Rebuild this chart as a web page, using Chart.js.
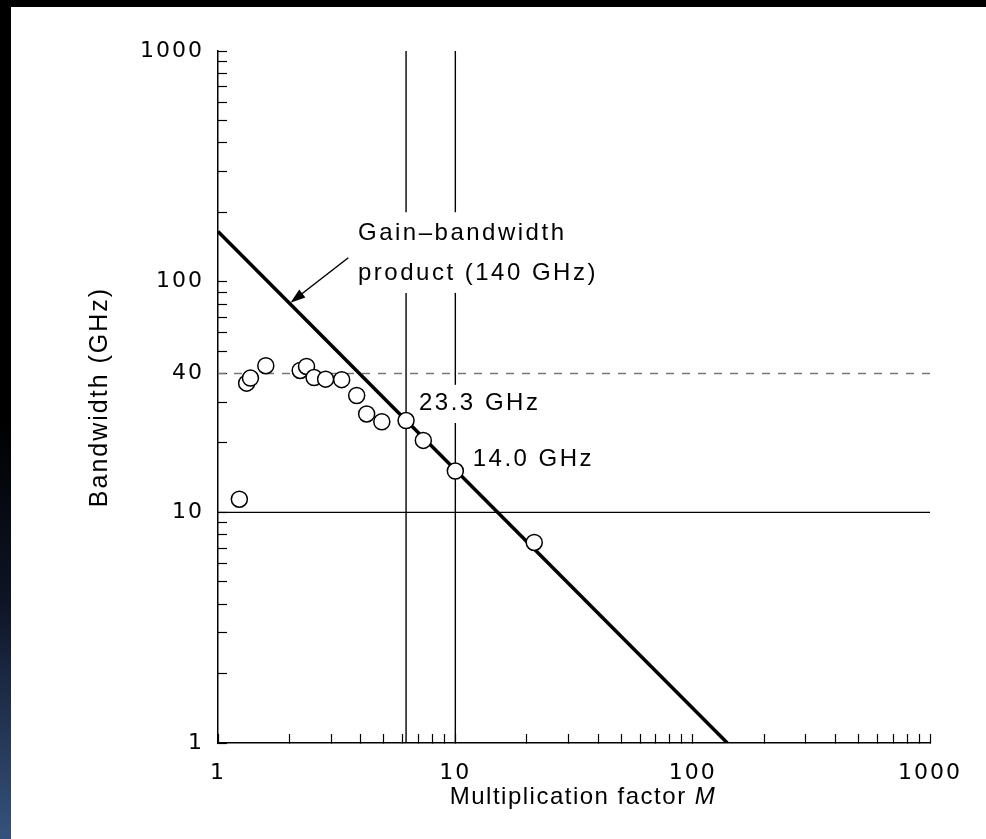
<!DOCTYPE html>
<html>
<head>
<meta charset="utf-8">
<script src="https://cdn.jsdelivr.net/npm/chart.js@4.4.1/dist/chart.umd.min.js"></script>
<style>
  html, body { margin: 0; padding: 0; background: #000; }
  body { width: 986px; height: 839px; position: relative; overflow: hidden; }
  #strip { position: absolute; left: 0; top: 0; width: 11px; height: 839px;
    background: linear-gradient(to bottom, #000 0%, #000 50%, #0e1526 72%, #36527c 100%); }
  #wrap { position: absolute; left: 11px; top: 7px; width: 975px; height: 832px; background: #fff; }
</style>
</head>
<body>
<div id="strip"></div>
<div id="wrap"><canvas id="chart" width="975" height="832"></canvas></div>
<script>
// measured points: multiplication factor M vs bandwidth (GHz)
const multFactor   = [1.23, 1.32, 1.37, 1.59, 2.22, 2.36, 2.54, 2.84, 3.32, 3.84, 4.23, 4.90, 6.2, 7.33, 10, 21.5];
const bandwidthGHz = [11.4, 36.3, 38.2, 43.2, 41.2, 42.9, 38.4, 37.8, 37.6, 32.1, 26.7, 24.7, 25.0, 20.5, 15.1, 7.4];

// gain-bandwidth product line (140 GHz)
const gbpM  = [1, 140];
const gbpBW = [165, 1];

// reference lines
const level40 = 40;
const level10 = 10;
const markM = [6.2, 10];

// tick labels
const xTickLabels = [1, 10, 100, 1000];
const yTickLabels = [1, 10, 40, 100, 1000];

const minorTicks = [];
[1, 10, 100].forEach(d => { for (let k = 1; k < 10; k++) minorTicks.push(k * d); });
minorTicks.push(1000);

const pts = multFactor.map((m, i) => ({ x: m, y: bandwidthGHz[i] }));

const lineDs = (data, opts) => Object.assign({
  data: data, showLine: true, pointRadius: 0, borderColor: "#000",
  borderWidth: 1.4, fill: false
}, opts);

const vSeg = (m, lo, hi) => lineDs([{ x: m, y: lo }, { x: m, y: hi }], {});

// annotations drawn with the scales
const annot = {
  id: "annot",
  beforeDraw(chart) {
    chart.ctx.letterSpacing = "2px";
  },
  afterDraw(chart) {
    const { ctx, scales: { x, y } } = chart;
    ctx.save();
    ctx.fillStyle = "#000";
    ctx.textBaseline = "middle";
    ctx.textAlign = "left";
    ctx.font = "24px 'Liberation Sans', Arial, sans-serif";
    ctx.letterSpacing = "2.5px";
    const notes = [
      ["Gain\u2013bandwidth", 3.89, 162],
      ["product (140 GHz)", 3.89, 108.7],
      ["23.3 GHz", 7.03, 29.6],
      ["14.0 GHz", 11.84, 16.9]
    ];
    notes.forEach(n => ctx.fillText(n[0], x.getPixelForValue(n[1]), y.getPixelForValue(n[2])));

    // arrow to the line
    const tx = x.getPixelForValue(3.54), ty = y.getPixelForValue(127);
    const hx = x.getPixelForValue(2.02), hy = y.getPixelForValue(81.1);
    const ang = Math.atan2(hy - ty, hx - tx);
    ctx.strokeStyle = "#000";
    ctx.lineWidth = 1.5;
    ctx.beginPath();
    ctx.moveTo(tx, ty);
    ctx.lineTo(hx - 10 * Math.cos(ang), hy - 10 * Math.sin(ang));
    ctx.stroke();
    ctx.beginPath();
    ctx.moveTo(hx, hy);
    ctx.lineTo(hx - 15 * Math.cos(ang) + 5 * Math.sin(ang), hy - 15 * Math.sin(ang) - 5 * Math.cos(ang));
    ctx.lineTo(hx - 15 * Math.cos(ang) - 5 * Math.sin(ang), hy - 15 * Math.sin(ang) + 5 * Math.cos(ang));
    ctx.closePath();
    ctx.fill();

    // x axis title with italic M
    ctx.letterSpacing = "1.5px";
    const t1 = "Multiplication factor ";
    ctx.font = "italic 24px 'Liberation Sans', Arial, sans-serif";
    const w2 = ctx.measureText("M").width;
    ctx.font = "24px 'Liberation Sans', Arial, sans-serif";
    const w1 = ctx.measureText(t1).width;
    const cx = 572, cy = 790;
    const sx = cx - (w1 + w2) / 2;
    ctx.fillText(t1, sx, cy);
    ctx.font = "italic 24px 'Liberation Sans', Arial, sans-serif";
    ctx.fillText("M", sx + w1, cy);
    ctx.restore();
  }
};

new Chart(document.getElementById("chart"), {
  type: "scatter",
  data: {
    datasets: [
      {
        data: pts, pointRadius: 8, pointBackgroundColor: "#fff",
        pointBorderColor: "#000", pointBorderWidth: 1.5, showLine: false
      },
      lineDs([{ x: gbpM[0], y: gbpBW[0] }, { x: gbpM[1], y: gbpBW[1] }], { borderWidth: 3.5 }),
      lineDs([{ x: 1, y: level10 }, { x: 1000, y: level10 }], {}),
      lineDs([{ x: 1, y: level40 }, { x: 1000, y: level40 }], { borderColor: "#777", borderDash: [8, 8] }),
      vSeg(markM[0], 1, 89.4),
      vSeg(markM[0], 200, 1000),
      vSeg(markM[1], 1, 24.4),
      vSeg(markM[1], 35.7, 89.4),
      vSeg(markM[1], 200, 1000)
    ]
  },
  options: {
    responsive: false,
    animation: false,
    events: [],
    layout: { padding: { left: 0, top: 44, right: 56, bottom: 0 } },
    plugins: { legend: { display: false }, tooltip: { enabled: false } },
    scales: {
      x: {
        type: "logarithmic", min: 1, max: 1000,
        afterBuildTicks: s => { s.ticks = minorTicks.map(v => ({ value: v })); },
        afterFit: s => { s.height = 96; },
        border: { display: true, color: "#000", width: 1.5 },
        grid: { drawOnChartArea: false, drawTicks: true, tickLength: -9, tickColor: "#000", tickWidth: 1.2 },
        ticks: {
          autoSkip: false, maxRotation: 0, padding: 26, color: "#000",
          font: { family: "'DejaVu Sans'", size: 22 },
          callback: v => xTickLabels.includes(v) ? String(v) : ""
        }
      },
      y: {
        type: "logarithmic", min: 1, max: 1000,
        afterBuildTicks: s => { s.ticks = minorTicks.map(v => ({ value: v })); },
        afterFit: s => { s.width = 207; },
        border: { display: true, color: "#000", width: 1.5 },
        grid: { drawOnChartArea: false, drawTicks: true, tickLength: -9, tickColor: "#000", tickWidth: 1.2 },
        ticks: {
          autoSkip: false, padding: 23, color: "#000",
          font: { family: "'DejaVu Sans'", size: 22 },
          callback: v => yTickLabels.includes(v) ? String(v) : ""
        },
        title: {
          display: true, text: "Bandwidth (GHz)", color: "#000",
          font: { family: "'Liberation Sans', Arial, sans-serif", size: 25 },
          padding: { top: 74, bottom: 74 }
        }
      }
    }
  },
  plugins: [annot]
});
</script>
</body>
</html>
